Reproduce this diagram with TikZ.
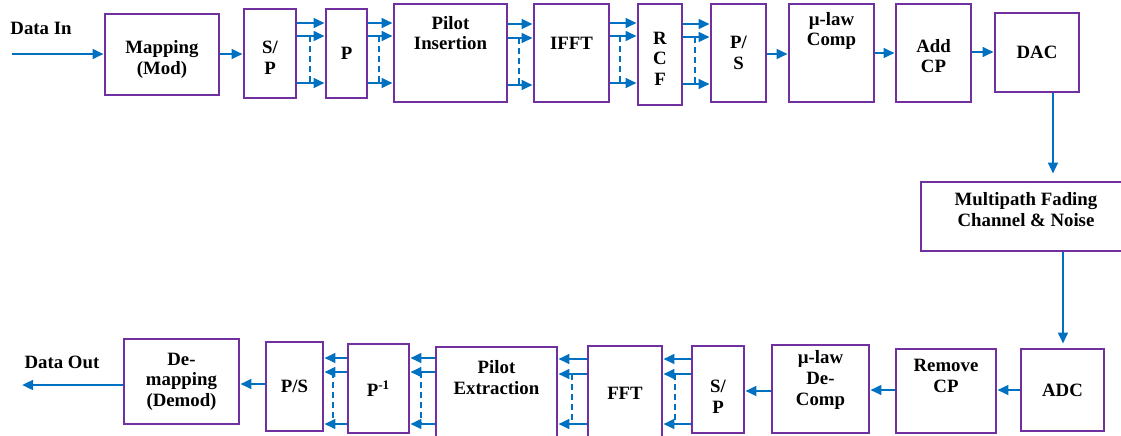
\documentclass[tikz,border=0pt]{standalone}
\usepackage{fontspec}
\setmainfont{Liberation Serif}
\usetikzlibrary{arrows.meta}
\definecolor{box-purple}{HTML}{7030A0}
\definecolor{arrow-blue}{HTML}{0070C0}

\begin{document}
\begin{tikzpicture}[x=0.5pt, y=-0.5pt,
      every node/.style={font=\bfseries\fontsize{9.4}{10.3}\selectfont},
      blk/.style={draw=box-purple, line width=1.4pt, fill=white,
          inner sep=0pt, align=center},
      arr/.style={draw=arrow-blue, line width=1.25pt,
          -{Triangle[length=5.5pt, width=4.8pt]}},
      bus/.style={draw=arrow-blue, line width=1.25pt,
          dash pattern=on 3pt off 2pt}]
    \useasboundingbox (0,0) rectangle (1121,435);
    \clip (0,0) rectangle (1121,435);
    % transmitter
    \node[blk, minimum width=57pt, minimum height=40.5pt, text height=22pt] (Map) at (162,54.5) {Mapping\\(Mod)};
    \node[blk, minimum width=26pt, minimum height=44.5pt, text height=21pt] (SP1) at (270,53.5) {S/\\P};
    \node[blk, minimum width=20.5pt, minimum height=44.5pt] (P1) at (346.5,53.5) {P};
    \node[blk, minimum width=56.5pt, minimum height=49pt, text depth=20pt] (PI) at (450.5,53) {Pilot\\Insertion};
    \node[blk, minimum width=37.5pt, minimum height=49pt, text depth=10pt] (IFFT) at (571.5,53) {IFFT};
    \node[blk, minimum width=22pt, minimum height=50.5pt, text height=31pt] (RCF) at (660,54.5) {R\\C\\F};
    \node[blk, minimum width=27.5pt, minimum height=49pt] (PS1) at (738.5,53) {P/\\S};
    \node[blk, minimum width=42.5pt, minimum height=49pt, text depth=24pt] (MuC) at (831.5,53) {µ-law\\Comp};
    \node[blk, minimum width=37.5pt, minimum height=49pt, text height=20pt] (ACP) at (933.5,53) {Add\\CP};
    \node[blk, minimum width=42pt, minimum height=39.5pt] (DAC) at (1037,52.5) {DAC};
    % channel
    \node[blk, minimum width=105pt, minimum height=34.5pt, text depth=7pt] (MF) at (1026,216.5) {Multipath Fading\\Channel \& Noise};
    % receiver
    \node[blk, minimum width=41.5pt, minimum height=41pt] (ADC) at (1062.5,390) {ADC};
    \node[blk, minimum width=50pt, minimum height=42pt, text depth=15pt] (RCP) at (946,391) {Remove\\CP};
    \node[blk, minimum width=48.5pt, minimum height=44pt, text depth=11pt] (MuD) at (820.5,389) {µ-law\\De-\\Comp};
    \node[blk, minimum width=26pt, minimum height=43.5pt, text height=23.5pt] (SP2) at (718,389.5) {S/\\P};
    \node[blk, minimum width=37pt, minimum height=47pt] (FFT) at (625,393) {FFT};
    \node[blk, minimum width=60.5pt, minimum height=46.5pt, text depth=16pt] (PE) at (496.5,393.5) {Pilot\\Extraction};
    \node[blk, minimum width=30.5pt, minimum height=44.5pt] (Pinv) at (378.5,388.5) {P\textsuperscript{-1}};
    \node[blk, minimum width=28.5pt, minimum height=44.5pt] (PS2) at (294.5,386.5) {P/S};
    \node[blk, minimum width=57.5pt, minimum height=42.5pt] (DeM) at (181.5,381.5) {De-\\mapping\\(Demod)};
    % labels
    \node (inlab) at (41,28) {Data In};
    \node (outlab) at (62,362) {Data Out};
    \coordinate (in) at (12,54);
    \coordinate (out) at (22,385);
    % top row links
    \draw[arr] (in) -- (in -| Map.west);
    \draw[arr] (Map.east |- 0,54) -- (SP1.west |- 0,54);
    \draw[arr] (SP1.east |- 0,23) -- (P1.west |- 0,23);
    \draw[arr] (SP1.east |- 0,36) -- (P1.west |- 0,36);
    \draw[arr] (SP1.east |- 0,83) -- (P1.west |- 0,83);
    \draw[bus] (310,36) -- (310,83);
    \draw[arr] (P1.east |- 0,23) -- (PI.west |- 0,23);
    \draw[arr] (P1.east |- 0,36) -- (PI.west |- 0,36);
    \draw[arr] (P1.east |- 0,83) -- (PI.west |- 0,83);
    \draw[bus] (379,36) -- (379,83);
    \draw[arr] (PI.east |- 0,24) -- (IFFT.west |- 0,24);
    \draw[arr] (PI.east |- 0,38) -- (IFFT.west |- 0,38);
    \draw[arr] (PI.east |- 0,85) -- (IFFT.west |- 0,85);
    \draw[bus] (519,38) -- (519,85);
    \draw[arr] (IFFT.east |- 0,23) -- (RCF.west |- 0,23);
    \draw[arr] (IFFT.east |- 0,36) -- (RCF.west |- 0,36);
    \draw[arr] (IFFT.east |- 0,83) -- (RCF.west |- 0,83);
    \draw[bus] (620,36) -- (620,83);
    \draw[arr] (RCF.east |- 0,24) -- (PS1.west |- 0,24);
    \draw[arr] (RCF.east |- 0,37) -- (PS1.west |- 0,37);
    \draw[arr] (RCF.east |- 0,84) -- (PS1.west |- 0,84);
    \draw[bus] (695,37) -- (695,84);
    \draw[arr] (PS1.east |- 0,54) -- (MuC.west |- 0,54);
    \draw[arr] (MuC.east |- 0,53) -- (ACP.west |- 0,53);
    \draw[arr] (ACP.east |- 0,52) -- (DAC.west |- 0,52);
    % through the channel
    \draw[arr, shorten >=3.5pt] (DAC.south -| 1053,0) -- (MF.north -| 1053,0);
    \draw[arr, shorten >=2pt] (MF.south -| 1063,0) -- (ADC.north -| 1063,0);
    % bottom row links
    \draw[arr] (ADC.west |- 0,390) -- (RCP.east |- 0,390);
    \draw[arr] (RCP.west |- 0,390) -- (MuD.east |- 0,390);
    \draw[arr] (MuD.west |- 0,391) -- (SP2.east |- 0,391);
    \draw[arr] (SP2.west |- 0,359) -- (FFT.east |- 0,359);
    \draw[arr] (SP2.west |- 0,374) -- (FFT.east |- 0,374);
    \draw[arr] (SP2.west |- 0,424) -- (FFT.east |- 0,424);
    \draw[bus] (675,374) -- (675,424);
    \draw[arr] (FFT.west |- 0,359) -- (PE.east |- 0,359);
    \draw[arr] (FFT.west |- 0,374) -- (PE.east |- 0,374);
    \draw[arr] (FFT.west |- 0,424) -- (PE.east |- 0,424);
    \draw[bus] (572,374) -- (572,424);
    \draw[arr] (PE.west |- 0,358) -- (Pinv.east |- 0,358);
    \draw[arr] (PE.west |- 0,372) -- (Pinv.east |- 0,372);
    \draw[arr] (PE.west |- 0,424) -- (Pinv.east |- 0,424);
    \draw[bus] (421,372) -- (421,424);
    \draw[arr] (Pinv.west |- 0,358) -- (PS2.east |- 0,358);
    \draw[arr] (Pinv.west |- 0,372) -- (PS2.east |- 0,372);
    \draw[arr] (Pinv.west |- 0,424) -- (PS2.east |- 0,424);
    \draw[bus] (333,372) -- (333,424);
    \draw[arr] (PS2.west |- 0,384) -- (DeM.east |- 0,384);
    \draw[arr] (DeM.west |- out) -- (out);
  \end{tikzpicture}
\end{document}
